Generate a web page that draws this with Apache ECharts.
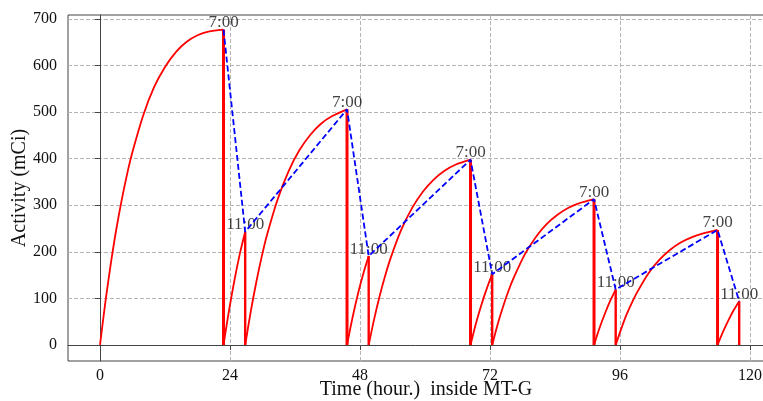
<!DOCTYPE html>
<html>
<head>
<meta charset="utf-8">
<script src="https://cdn.jsdelivr.net/npm/echarts@6/dist/echarts.min.js"></script>
<style>
  html, body { margin: 0; padding: 0; background: #ffffff; }
  #chart { width: 763px; height: 401px; }
</style>
</head>
<body>
<div id="chart"></div>
<script>
// Tc-99m activity inside the generator: ingrowth between the 7:00 and 11:00 elutions

const xTicks = [0, 24, 48, 72, 96, 120];
const yTicks = [0, 100, 200, 300, 400, 500, 600, 700];
const xTitle = 'Time (hour.)  inside MT-G';
const yTitle = 'Activity (mCi)';

// elution times (h) and the activity reached at each elution (mCi)
const morningTimes = [22.8, 45.6, 68.4, 91.2, 114];
const morningActivity = [677, 506, 398, 313, 247];
const lateTimes = [26.8, 49.6, 72.4, 95.2, 118];
const lateActivity = [243, 191, 152, 119, 94];
const morningLabel = '7:00';
const lateLabel = '11:00';

// ingrowth after each elution (h, mCi); each curve closes at the next elution value
const growth1 = [[0, 0], [1, 93], [2, 175], [3, 248], [4, 311], [5, 367], [6, 415], [8, 494], [10, 554], [12, 597], [14, 629], [16, 651], [18, 665], [20, 673]];
const growth2 = [[22.8, 0], [23.8, 73], [24.8, 138], [25.8, 195]];
const growth3 = [[26.8, 0], [27.8, 70], [28.8, 132], [29.8, 187], [30.8, 235], [32.8, 313], [34.8, 373], [36.8, 418], [38.8, 451], [40.8, 475], [42.8, 491]];
const growth4 = [[45.6, 0], [46.6, 58], [47.6, 109], [48.6, 153]];
const growth5 = [[49.6, 0], [50.6, 55], [51.6, 104], [52.6, 147], [53.6, 185], [55.6, 247], [57.6, 294], [59.6, 329], [61.6, 355], [63.6, 374], [65.6, 387]];
const growth6 = [[68.4, 0], [69.4, 46], [70.4, 86], [71.4, 121]];
const growth7 = [[72.4, 0], [73.4, 44], [74.4, 82], [75.4, 116], [76.4, 145], [78.4, 194], [80.4, 231], [82.4, 259], [84.4, 279], [86.4, 294], [88.4, 304]];
const growth8 = [[91.2, 0], [92.2, 36], [93.2, 67], [94.2, 95]];
const growth9 = [[95.2, 0], [96.2, 34], [97.2, 65], [98.2, 91], [99.2, 114], [101.2, 153], [103.2, 182], [105.2, 204], [107.2, 220], [109.2, 231], [111.2, 239]];
const growth10 = [[114, 0], [115, 28], [116, 53], [117, 75]];

const SERIF = '"Liberation Serif", "DejaVu Serif", serif';
const RED = '#ff0000';
const BLUE = '#0000ff';
const INK = '#111111';

const growthCurves = [growth1, growth2, growth3, growth4, growth5, growth6, growth7, growth8, growth9, growth10];

// elution points in time order: 7:00, 11:00, 7:00, ...
const elutions = [];
morningTimes.forEach((t, i) => {
  elutions.push({ t: t, a: morningActivity[i], label: morningLabel, morning: true });
  elutions.push({ t: lateTimes[i], a: lateActivity[i], label: lateLabel, morning: false });
});

const series = [];

growthCurves.forEach((pts, i) => {
  const end = elutions[i];
  series.push({
    type: 'line',
    data: pts.concat([[end.t, end.a]]),
    smooth: 0.3,
    showSymbol: false,
    lineStyle: { color: RED, width: 1.8 },
    z: 3
  });
});

// activity drops to zero at each elution
elutions.forEach(e => {
  series.push({
    type: 'line',
    data: [[e.t, e.a], [e.t, 0]],
    showSymbol: false,
    lineStyle: { color: RED, width: e.morning ? 3 : 2.4 },
    z: 3
  });
});

// eluted activity: 7:00 -> 11:00 -> next 7:00 ...
series.push({
  type: 'line',
  data: elutions.map(e => [e.t, e.a]),
  showSymbol: false,
  lineStyle: { color: BLUE, width: 1.8, type: [6, 3] },
  z: 5
});

// time-of-day labels at each elution
series.push({
  type: 'scatter',
  data: elutions.map(e => ({ value: [e.t, e.a], name: e.label })),
  symbolSize: 1,
  itemStyle: { color: 'rgba(0,0,0,0)' },
  label: {
    show: true,
    position: 'top',
    distance: 1,
    offset: [0, 3],
    formatter: p => p.name,
    fontFamily: SERIF,
    fontSize: 17,
    color: INK
  },
  z: 4
});

const chart = echarts.init(document.getElementById('chart'), null, { renderer: 'canvas' });

chart.setOption({
  animation: false,
  backgroundColor: '#ffffff',
  grid: {
    left: 68,
    right: -8,
    top: 15,
    bottom: 40,
    containLabel: false,
    outerBoundsMode: 'none',
    show: true,
    borderColor: '#444444',
    borderWidth: 1,
    backgroundColor: 'transparent'
  },
  // horizontal axis title under the tick labels
  graphic: [{
    type: 'text',
    x: 426,
    y: 390,
    silent: true,
    style: {
      text: xTitle,
      fontFamily: SERIF,
      fontSize: 20,
      fill: INK,
      align: 'center',
      verticalAlign: 'middle'
    }
  }],
  xAxis: {
    type: 'value',
    min: -5.91,
    max: 123.87,
    axisLine: { show: true, lineStyle: { color: '#444444', width: 1 } },
    axisTick: { show: true, inside: false, length: 5, customValues: xTicks, lineStyle: { color: '#444444' } },
    axisLabel: {
      customValues: xTicks,
      formatter: v => String(v),
      margin: 7,
      hideOverlap: false,
      fontFamily: SERIF,
      fontSize: 16,
      color: INK
    },
    splitLine: { show: true, lineStyle: { color: '#b5b5b5', width: 1, type: [4, 2] } }
  },
  yAxis: {
    type: 'value',
    min: -34.4,
    max: 708.6,
    name: yTitle,
    nameLocation: 'middle',
    nameGap: 38,
    nameMoveOverlap: false,
    nameTextStyle: { fontFamily: SERIF, fontSize: 20, color: INK },
    axisLine: { show: true, lineStyle: { color: '#444444', width: 1 } },
    axisTick: { show: true, inside: false, length: 5, customValues: yTicks, lineStyle: { color: '#444444' } },
    axisLabel: {
      customValues: yTicks,
      formatter: v => String(v),
      margin: 11,
      fontFamily: SERIF,
      fontSize: 16,
      color: INK
    },
    splitLine: { show: true, lineStyle: { color: '#b5b5b5', width: 1, type: [4, 2] } }
  },
  series: series
});
</script>
</body>
</html>
